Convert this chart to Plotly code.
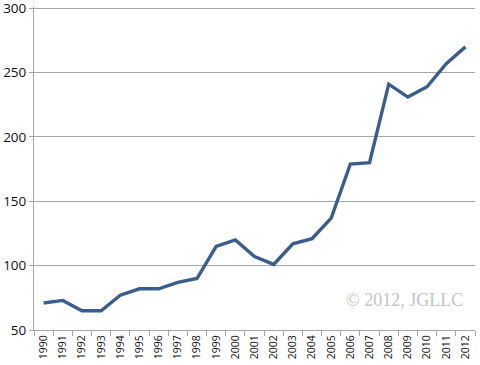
import plotly.graph_objects as go

years = [str(y) for y in range(1990, 2013)]
values = [71, 73, 65, 65, 77, 82, 82, 87, 90, 115, 120, 107, 101, 117, 121, 137,
          179, 180, 241, 231, 239, 257, 270]
y_ticks = [50, 100, 150, 200, 250, 300]

fig = go.Figure()
fig.add_trace(go.Scatter(x=years, y=values, mode="lines",
                         line=dict(color="#3a5d8c", width=3.4), showlegend=False))

fig.update_layout(
    width=480, height=365,
    margin=dict(l=34, r=5, t=7, b=35, autoexpand=False),
    paper_bgcolor="white", plot_bgcolor="white",
    font=dict(family="Open Sans, Liberation Sans, sans-serif", color="#111"),
    xaxis=dict(type="category", tickangle=-90, tickfont=dict(size=10.5),
               showline=True, linecolor="#a6a6a6", linewidth=1,
               ticks="outside", ticklen=5, tickcolor="#a6a6a6",
               tickson="boundaries", showgrid=False, range=[-0.5, 22.5],
               automargin=False),
    yaxis=dict(range=[50, 301], tickmode="array", tickvals=y_ticks,
               ticktext=[str(v) for v in y_ticks], tickfont=dict(size=13.5),
               showline=True, linecolor="#a6a6a6", linewidth=1,
               ticks="outside", ticklen=4, tickcolor="#a6a6a6",
               showgrid=True, gridcolor="#a6a6a6", gridwidth=1, zeroline=False,
               automargin=False, ticklabeloverflow="allow"),
    annotations=[dict(text="© 2012, JGLLC", xref="paper", yref="paper",
                      x=0.977, y=0.093, xanchor="right", yanchor="middle",
                      showarrow=False,
                      font=dict(family="Liberation Serif, serif", size=18, color="#c4c4c4"))],
)

fig.write_html("out.html", config={"displayModeBar": False},
               post_script="document.body.style.margin='0';")
